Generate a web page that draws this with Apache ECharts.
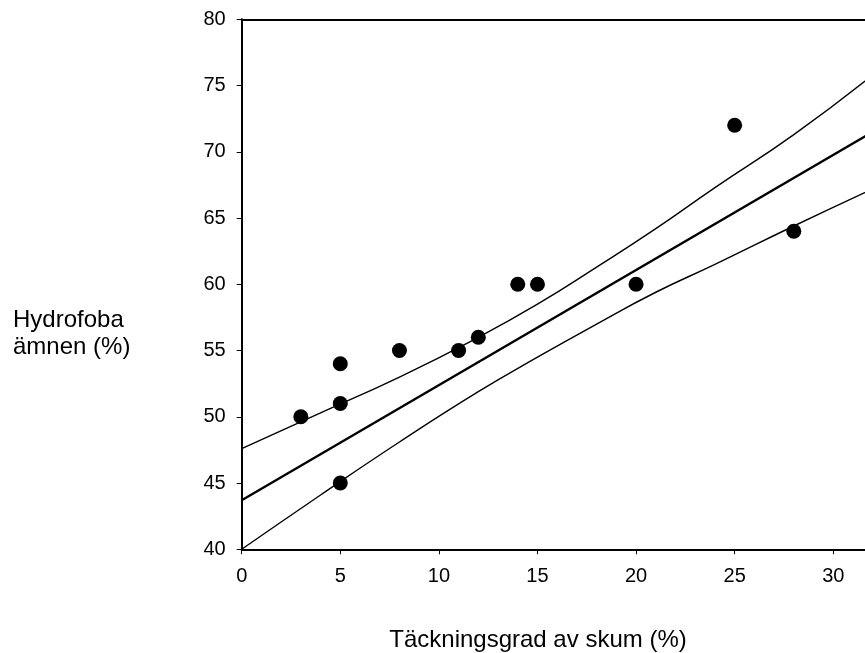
<!DOCTYPE html>
<html>
<head>
<meta charset="utf-8">
<script src="https://cdn.jsdelivr.net/npm/echarts@6/dist/echarts.min.js"></script>
<style>
  html, body { margin: 0; padding: 0; background: #fff; }
  #chart { width: 865px; height: 653px; }
</style>
</head>
<body>
<div id="chart"></div>
<script>
// measured points
const pointX = [3, 5, 5, 5, 8, 11, 12, 14, 15, 20, 25, 28];
const pointY = [50, 54, 51, 45, 55, 55, 56, 60, 60, 60, 72, 64];

// regression line
const fitX = [0, 32];
const fitY = [43.7, 71.5];

// confidence band
const upperX = [0, 4, 8, 12, 15, 18, 21, 24, 28, 32];
const upperY = [47.6, 50.3, 53.0, 56.0, 58.5, 61.3, 64.2, 67.3, 71.3, 75.8];
const lowerX = [0, 4, 8, 12, 15, 18, 21, 24, 28, 32];
const lowerY = [40.0, 44.1, 48.1, 51.9, 54.5, 57.0, 59.4, 61.5, 64.4, 67.2];

const xTicks = [0, 5, 10, 15, 20, 25, 30];
const yTicks = [40, 45, 50, 55, 60, 65, 70, 75, 80];

const font = 'Liberation Sans, Arial, sans-serif';

function pairs(xs, ys) {
  return xs.map((x, i) => [x, ys[i]]);
}

const chart = echarts.init(document.getElementById('chart'));

// the plot is cut off by the right edge of the picture, so x stops near 31.6
const xMax = 31.61;

const option = {
  backgroundColor: '#fff',
  animation: false,
  grid: {
    left: 241.7,
    top: 19.3,
    right: 0,
    height: 530
  },
  xAxis: [
    {
      type: 'value',
      min: 0,
      max: xMax,
      interval: 5,
      splitLine: { show: false },
      axisLine: { onZero: false, lineStyle: { color: '#000', width: 2 } },
      axisTick: { inside: false, length: 5, lineStyle: { color: '#000', width: 1 } },
      axisLabel: {
        color: '#000',
        fontSize: 20,
        fontFamily: font,
        margin: 17,
        showMaxLabel: false,
        formatter: v => (xTicks.indexOf(v) >= 0 ? String(v) : '')
      }
    },
    {
      // top frame line
      type: 'value',
      position: 'top',
      min: 0,
      max: xMax,
      splitLine: { show: false },
      axisLine: { onZero: false, lineStyle: { color: '#000', width: 2 } },
      axisTick: { show: false },
      axisLabel: { show: false }
    }
  ],
  yAxis: {
    type: 'value',
    min: 40,
    max: 80,
    interval: 5,
    splitLine: { show: false },
    axisLine: { onZero: false, lineStyle: { color: '#000', width: 2 } },
    axisTick: { inside: false, length: 5, lineStyle: { color: '#000', width: 1 } },
    axisLabel: {
      color: '#000',
      fontSize: 20,
      fontFamily: font,
      margin: 16,
      formatter: v => (yTicks.indexOf(v) >= 0 ? String(v) : '')
    }
  },
  graphic: [
    {
      type: 'text',
      left: 13,
      top: 307,
      style: {
        text: 'Hydrofoba\nämnen (%)',
        font: '24px ' + font,
        lineHeight: 27,
        fill: '#000'
      }
    },
    {
      type: 'text',
      x: 538,
      y: 640,
      style: {
        text: 'Täckningsgrad av skum (%)',
        font: '24px ' + font,
        align: 'center',
        verticalAlign: 'middle',
        fill: '#000'
      }
    }
  ],
  series: [
    {
      name: 'upper',
      type: 'line',
      data: pairs(upperX, upperY),
      smooth: true,
      showSymbol: false,
      lineStyle: { color: '#000', width: 1.4 }
    },
    {
      name: 'lower',
      type: 'line',
      data: pairs(lowerX, lowerY),
      smooth: true,
      showSymbol: false,
      lineStyle: { color: '#000', width: 1.4 }
    },
    {
      name: 'fit',
      type: 'line',
      data: pairs(fitX, fitY),
      showSymbol: false,
      lineStyle: { color: '#000', width: 2.4 }
    },
    {
      name: 'points',
      type: 'scatter',
      data: pairs(pointX, pointY),
      symbol: 'circle',
      symbolSize: 15,
      itemStyle: { color: '#000', opacity: 1 },
      z: 5
    }
  ]
};

chart.setOption(option);
</script>
</body>
</html>
